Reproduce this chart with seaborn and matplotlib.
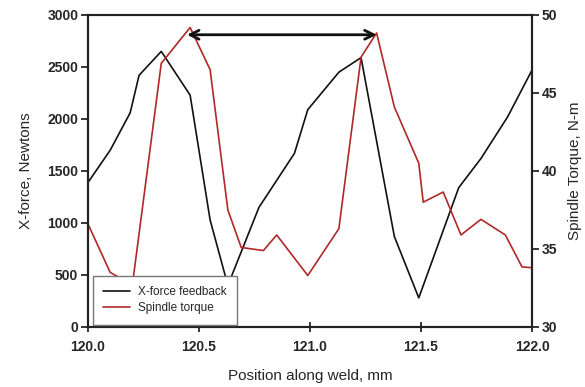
import matplotlib
matplotlib.use("Agg")
import matplotlib.pyplot as plt
import seaborn as sns
import pandas as pd
from matplotlib.lines import Line2D

# X-force feedback (N)
force_pos = [120.00, 120.10, 120.19, 120.23, 120.33, 120.46, 120.55, 120.63, 120.77,
             120.93, 120.99, 121.13, 121.23, 121.38, 121.49, 121.67, 121.77, 121.89, 122.00]
force_val = [1390, 1700, 2060, 2420, 2650, 2230, 1030, 400, 1150,
             1670, 2090, 2450, 2590, 870, 280, 1340, 1620, 2020, 2470]

# Spindle torque (N-m)
torque_pos = [120.00, 120.10, 120.15, 120.20, 120.33, 120.46, 120.55, 120.63, 120.69,
              120.79, 120.85, 120.99, 121.13, 121.17, 121.23, 121.30, 121.38, 121.49,
              121.51, 121.60, 121.68, 121.77, 121.88, 121.955, 122.00]
torque_val = [36.6, 33.5, 33.1, 32.7, 46.9, 49.2, 46.5, 37.5, 35.1,
              34.9, 35.9, 33.3, 36.3, 40.7, 47.3, 48.85, 44.1, 40.5,
              38.0, 38.65, 35.9, 36.9, 35.9, 33.85, 33.8]

x_ticks = [120.0, 120.5, 121.0, 121.5, 122.0]
left_ticks = [0, 500, 1000, 1500, 2000, 2500, 3000]
right_ticks = [30, 35, 40, 45, 50]

arrow_y = 2810
arrow_x = [120.446, 121.30]

sns.set_style("ticks")
plt.rcParams['font.family'] = ['Liberation Sans', 'DejaVu Sans']

force_df = pd.DataFrame({"pos": force_pos, "val": force_val})
torque_df = pd.DataFrame({"pos": torque_pos, "val": torque_val})

black = "#111111"
red = "#b02828"

fig = plt.figure(figsize=(5.85, 3.87), dpi=100)
ax = fig.add_axes([88/585, 1-327/387, 444/585, 312/387])
sns.lineplot(data=force_df, x="pos", y="val", ax=ax, color=black, lw=1.2, sort=False)
ax2 = ax.twinx()
sns.lineplot(data=torque_df, x="pos", y="val", ax=ax2, color=red, lw=1.2, sort=False)

ax.set_xlim(120.0, 122.0)
ax.set_ylim(0, 3000)
ax2.set_ylim(30, 50)
ax.set_xticks(x_ticks)
ax.set_xticklabels([f"{v:.1f}" for v in x_ticks])
ax.set_yticks(left_ticks)
ax2.set_yticks(right_ticks)

for a in (ax, ax2):
    for t in a.get_xticklabels() + a.get_yticklabels():
        t.set_fontweight("bold")
        t.set_fontsize(10)
    for s in a.spines.values():
        s.set_visible(True)
        s.set_linewidth(1.5)
        s.set_color("#222222")
ax.spines['top'].set_color("#555555")

ax.tick_params(axis='x', direction='inout', length=7, width=1.3, pad=6)
ax.tick_params(axis='y', direction='out', length=5, width=1.3, pad=2)
ax2.tick_params(axis='y', direction='out', length=5, width=1.3, pad=2)

ax.set_xlabel("Position along weld, mm", fontsize=11, labelpad=11)
ax.set_ylabel("X-force, Newtons", fontsize=11, labelpad=10)
ax2.set_ylabel("Spindle Torque, N-m", fontsize=11, labelpad=8)

ax2.annotate("", xy=(arrow_x[1], 30 + arrow_y / 150), xytext=(arrow_x[0], 30 + arrow_y / 150),
             arrowprops=dict(arrowstyle="<->", lw=2.0, color=black, mutation_scale=16,
                             shrinkA=0, shrinkB=0))

handles = [Line2D([], [], color=black, lw=1.2), Line2D([], [], color=red, lw=1.2)]
leg = ax2.legend(handles, ["X-force feedback", "Spindle torque"],
                 loc="lower left", bbox_to_anchor=(0.011, 0.008),
                 fontsize=8.5, frameon=True, fancybox=False, framealpha=1,
                 edgecolor="#777777", handlelength=2.3, handletextpad=0.7,
                 borderpad=0.85, labelspacing=0.35, borderaxespad=0)
leg.set_zorder(10)

fig.savefig("out.png", dpi=100)
